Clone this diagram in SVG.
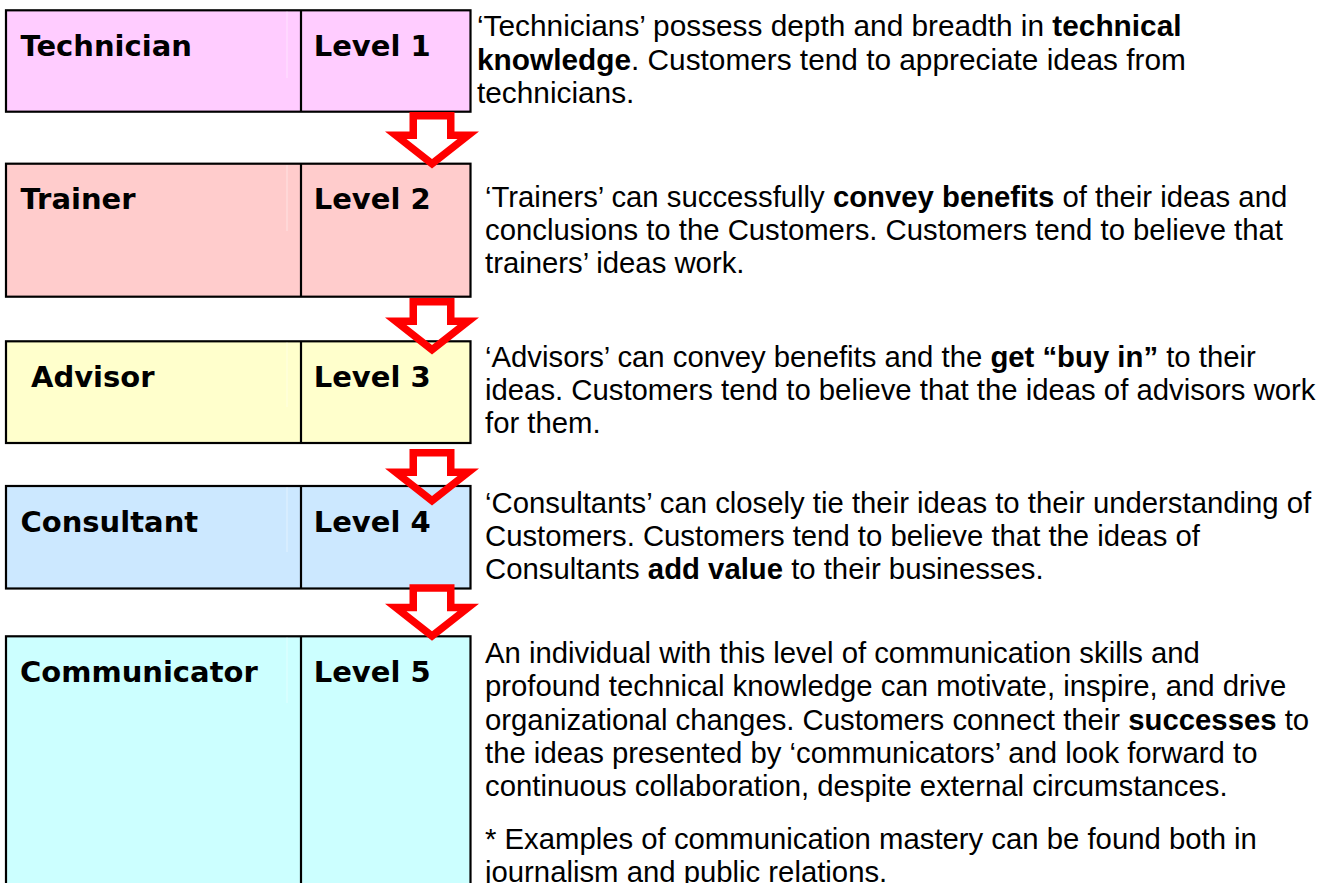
<svg xmlns="http://www.w3.org/2000/svg" width="1336" height="883" viewBox="0 0 1336 883">
<style>
.box{stroke:#000;stroke-width:2.2}
.div{stroke:#000;stroke-width:2.2}
.faint{stroke:#fff;stroke-opacity:0.45;stroke-width:1}
.lbl{font-family:"DejaVu Sans",Verdana,sans-serif;font-weight:bold;font-size:29px;fill:#000}
.txt{font-family:"Liberation Sans",Arial,sans-serif;font-size:29.3px;fill:#000}
.t1{font-size:29.8px}
.b{font-weight:bold}
.arrow{fill:#f00;fill-rule:evenodd}
</style>
<defs>
<path id="arr" class="arrow" d="M409.5,0 H454.5 V19.5 H479 L432,56.5 L385,19.5 H409.5 Z M417,7.5 H447 V27 H457.5 L432,47 L406.5,27 H417 Z"/>
</defs>
<rect width="1336" height="883" fill="#fff"/>

<g id="node-technician">
<rect class="box" x="6" y="10.3" width="464.5" height="101.4" fill="#FFCCFF"/>
<line class="faint" x1="287" y1="11.5" x2="287" y2="78"/>
<line class="div" x1="301" y1="10.3" x2="301" y2="111.7"/>
<text class="lbl" x="20.5" y="55.5">Technician</text>
<text class="lbl" x="313.7" y="55.5">Level 1</text>
<text class="txt t1" x="477" y="36.3">‘Technicians’ possess depth and breadth in <tspan class="b">technical</tspan></text>
<text class="txt t1" x="477" y="69.8"><tspan class="b">knowledge</tspan>. Customers tend to appreciate ideas from</text>
<text class="txt t1" x="477" y="103.3">technicians.</text>
</g>

<g id="node-trainer">
<rect class="box" x="6" y="163.7" width="464.5" height="133" fill="#FFCCCC"/>
<line class="faint" x1="287" y1="165" x2="287" y2="231"/>
<line class="div" x1="301" y1="163.7" x2="301" y2="296.7"/>
<text class="lbl" x="20.5" y="208.5">Trainer</text>
<text class="lbl" x="313.7" y="208.5">Level 2</text>
<text class="txt" x="485" y="206.7">‘Trainers’ can successfully <tspan class="b">convey benefits</tspan> of their ideas and</text>
<text class="txt" x="485" y="240">conclusions to the Customers. Customers tend to believe that</text>
<text class="txt" x="485" y="273.3">trainers’ ideas work.</text>
</g>

<g id="node-advisor">
<rect class="box" x="6" y="341.3" width="464.5" height="101.7" fill="#FFFFCC"/>
<line class="faint" x1="287" y1="342.5" x2="287" y2="407"/>
<line class="div" x1="301" y1="341.3" x2="301" y2="443"/>
<text class="lbl" x="31" y="386.5">Advisor</text>
<text class="lbl" x="313.7" y="386.5">Level 3</text>
<text class="txt" x="485" y="366.7">‘Advisors’ can convey benefits and the <tspan class="b">get “buy in”</tspan> to their</text>
<text class="txt" x="485" y="400">ideas. Customers tend to believe that the ideas of advisors work</text>
<text class="txt" x="485" y="433.3">for them.</text>
</g>

<g id="node-consultant">
<rect class="box" x="6" y="486" width="464.5" height="102.5" fill="#CCE8FF"/>
<line class="faint" x1="287" y1="487.2" x2="287" y2="552"/>
<line class="div" x1="301" y1="486" x2="301" y2="588.5"/>
<text class="lbl" x="20.5" y="531.5">Consultant</text>
<text class="lbl" x="313.7" y="531.5">Level 4</text>
<text class="txt" x="485" y="512.7">‘Consultants’ can closely tie their ideas to their understanding of</text>
<text class="txt" x="485" y="546">Customers. Customers tend to believe that the ideas of</text>
<text class="txt" x="485" y="579.3">Consultants <tspan class="b">add value</tspan> to their businesses.</text>
</g>

<g id="node-communicator">
<rect class="box" x="6" y="636.3" width="464.5" height="280" fill="#CCFFFF"/>
<line class="faint" x1="287" y1="637.5" x2="287" y2="703"/>
<line class="div" x1="301" y1="636.3" x2="301" y2="890"/>
<text class="lbl" x="20" y="682">Communicator</text>
<text class="lbl" x="313.7" y="682">Level 5</text>
<text class="txt" x="485" y="663">An individual with this level of communication skills and</text>
<text class="txt" x="485" y="696.3">profound technical knowledge can motivate, inspire, and drive</text>
<text class="txt" x="485" y="729.6">organizational changes. Customers connect their <tspan class="b">successes</tspan> to</text>
<text class="txt" x="485" y="762.9">the ideas presented by ‘communicators’ and look forward to</text>
<text class="txt" x="485" y="796.2">continuous collaboration, despite external circumstances.</text>
<text class="txt" x="485" y="848.5">* Examples of communication mastery can be found both in</text>
<text class="txt" x="485" y="881.8">journalism and public relations.</text>
</g>

<g id="connectors">
<use href="#arr" transform="translate(0,112)"/>
<use href="#arr" transform="translate(0,298)"/>
<use href="#arr" transform="translate(0,449)"/>
<use href="#arr" transform="translate(0,584.3)"/>
</g>
</svg>
